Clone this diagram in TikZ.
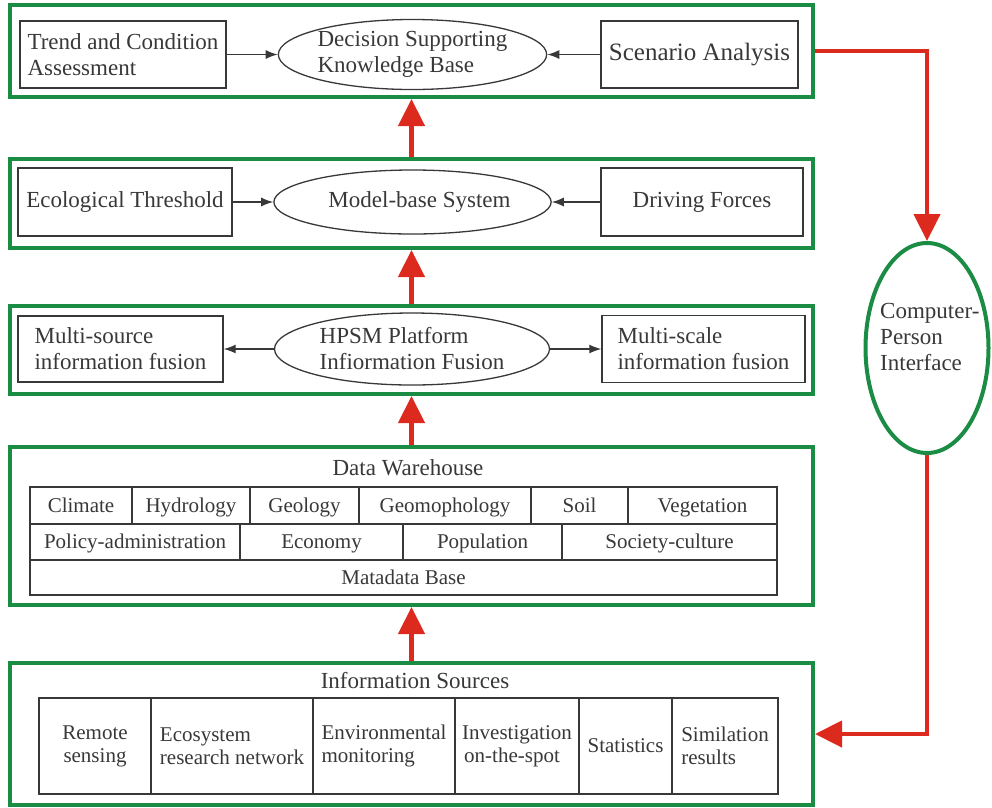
\documentclass[tikz,border=0pt]{standalone}
\usepackage{fontspec}
\setmainfont{Liberation Serif}
\usetikzlibrary{shapes.geometric,arrows.meta}
\definecolor{panelgreen}{HTML}{1A8C44}
\definecolor{flowred}{HTML}{DC2A1E}
\definecolor{ink}{HTML}{383838}
\newcommand\fsz[2]{\fontsize{#1}{#2}\selectfont}

\begin{document}
\begin{tikzpicture}[x=1pt,y=-1pt,
  panel/.style={draw=panelgreen, line width=4pt, minimum width=803pt, inner sep=0pt},
  box/.style={draw=ink, line width=1.4pt, inner sep=0pt, text=ink, font=\fsz{23}{26}},
  oval/.style={ellipse, draw=ink, line width=1.3pt, inner sep=0pt, text=ink, font=\fsz{23}{26}},
  cell/.style={draw=ink, line width=1.3pt, inner sep=0pt, text=ink, font=\fsz{21}{23}},
  rowcell/.style={cell, text height=16pt, text depth=3pt},
  title/.style={inner sep=0pt, text=ink, font=\fsz{23}{26}},
  link/.style={draw=ink, line width=1.3pt, -{Latex[length=12pt,width=9pt]}},
  flow/.style={draw=flowred, line width=4.5pt, -{Triangle[length=27pt,width=26pt]}},
]
\useasboundingbox (0,0) rectangle (992,807);

% ---- layer panels ----
\node[panel, minimum height=92pt]  (p1) at (411.5,51) {};
\node[panel, minimum height=89pt]  (p2) at (411.5,203.5) {};
\node[panel, minimum height=88pt]  (p3) at (411.5,350) {};
\node[panel, minimum height=158pt] (p4) at (411.5,526) {};
\node[panel, minimum height=142pt] (p5) at (411.5,734) {};

% ---- decision layer ----
\node[box, minimum width=206pt, minimum height=67pt, align=left] (trend) at (123,54.5)
  {Trend and Condition\\Assessment};
\node[oval, minimum width=255pt, minimum height=70pt, align=left] (dsk) at (412.5,54.5)
  {Decision Supporting\\Knowledge Base};
\node[box, minimum width=197pt, minimum height=67pt, font=\fsz{25}{28}] (scen) at (699.5,54.5)
  {Scenario Analysis};
\draw[link] (trend) -- (dsk);
\draw[link] (scen) -- (dsk);

% ---- model layer ----
\node[box, minimum width=214pt, minimum height=68pt] (eco) at (125,202)
  {Ecological Threshold};
\node[oval, minimum width=255pt, minimum height=64pt] (mbs) at (412.5,202)
  {\kern14pt Model-base System};
\node[box, minimum width=202pt, minimum height=68pt] (drive) at (702,202)
  {Driving Forces};
\draw[link] (eco) -- (mbs);
\draw[link] (drive) -- (mbs);

% ---- fusion layer ----
\node[box, minimum width=205pt, minimum height=66pt, align=left] (msrc) at (120.5,349)
  {Multi-source\\information fusion};
\node[oval, minimum width=275pt, minimum height=72pt, align=left] (hpsm) at (412,349)
  {HPSM Platform\\Infiormation Fusion};
\node[box, minimum width=203pt, minimum height=67pt, align=left] (mscl) at (703.5,349)
  {Multi-scale\\information fusion};
\draw[link] (hpsm) -- (msrc);
\draw[link] (hpsm) -- (mscl);

% ---- data warehouse ----
\node[title] (dw) at (408,468) {Data Warehouse};
\node[rowcell, minimum width=102pt, minimum height=37pt] (c11) at (81,505.5) {Climate};
\node[rowcell, minimum width=118pt, minimum height=37pt] (c12) at (191,505.5) {Hydrology};
\node[rowcell, minimum width=109pt, minimum height=37pt] (c13) at (304.5,505.5) {Geology};
\node[rowcell, minimum width=172pt, minimum height=37pt] (c14) at (445,505.5) {Geomophology};
\node[rowcell, minimum width=97pt,  minimum height=37pt] (c15) at (579.5,505.5) {Soil};
\node[rowcell, minimum width=149pt, minimum height=37pt] (c16) at (702.5,505.5) {Vegetation};
\node[rowcell, minimum width=210pt, minimum height=36pt] (c21) at (135,542) {Policy-administration};
\node[rowcell, minimum width=163pt, minimum height=36pt] (c22) at (321.5,542) {Economy};
\node[rowcell, minimum width=159pt, minimum height=36pt] (c23) at (482.5,542) {Population};
\node[rowcell, minimum width=215pt, minimum height=36pt] (c24) at (669.5,542) {Society-culture};
\node[rowcell, minimum width=747pt, minimum height=35pt] (c31) at (403.5,577.5) {Matadata Base};

% ---- information sources ----
\node[title] (is) at (415,680) {Information Sources};
\node[cell, minimum width=112pt, minimum height=96pt, align=center] (s1) at (95,746)
  {Remote\\sensing};
\node[cell, minimum width=162pt, minimum height=96pt, align=left] (s2) at (232,746)
  {Ecosystem\\research network};
\node[cell, minimum width=142pt, minimum height=96pt, align=left] (s3) at (384,746)
  {Environmental\\monitoring};
\node[cell, minimum width=124pt, minimum height=96pt, align=left] (s4) at (517,746)
  {Investigation\\\kern2pt on-the-spot};
\node[cell, minimum width=93pt,  minimum height=96pt] (s5) at (625.5,746)
  {Statistics};
\node[cell, minimum width=106pt, minimum height=96pt, align=left] (s6) at (725,746)
  {Similation\\results};

% ---- upward data flow ----
\draw[flow] (p5.north) -- (p4.south);
\draw[flow] (p4.north) -- (p3.south);
\draw[flow] (p3.north) -- (p2.south);
\draw[flow] (p2.north) -- (p1.south);

% ---- computer-person interface loop ----
\node[ellipse, draw=panelgreen, line width=4pt, minimum width=123pt, minimum height=210pt,
      inner sep=0pt] (cpi) at (927,348) {};
\node[title, anchor=west, align=left] (cpitext) at (880,337)
  {Computer-\\Person\\Interface};
\draw[flow] (p1.east) -| (cpi.north);
\draw[flow] (cpi.south) |- (p5.east);
\end{tikzpicture}
\end{document}
